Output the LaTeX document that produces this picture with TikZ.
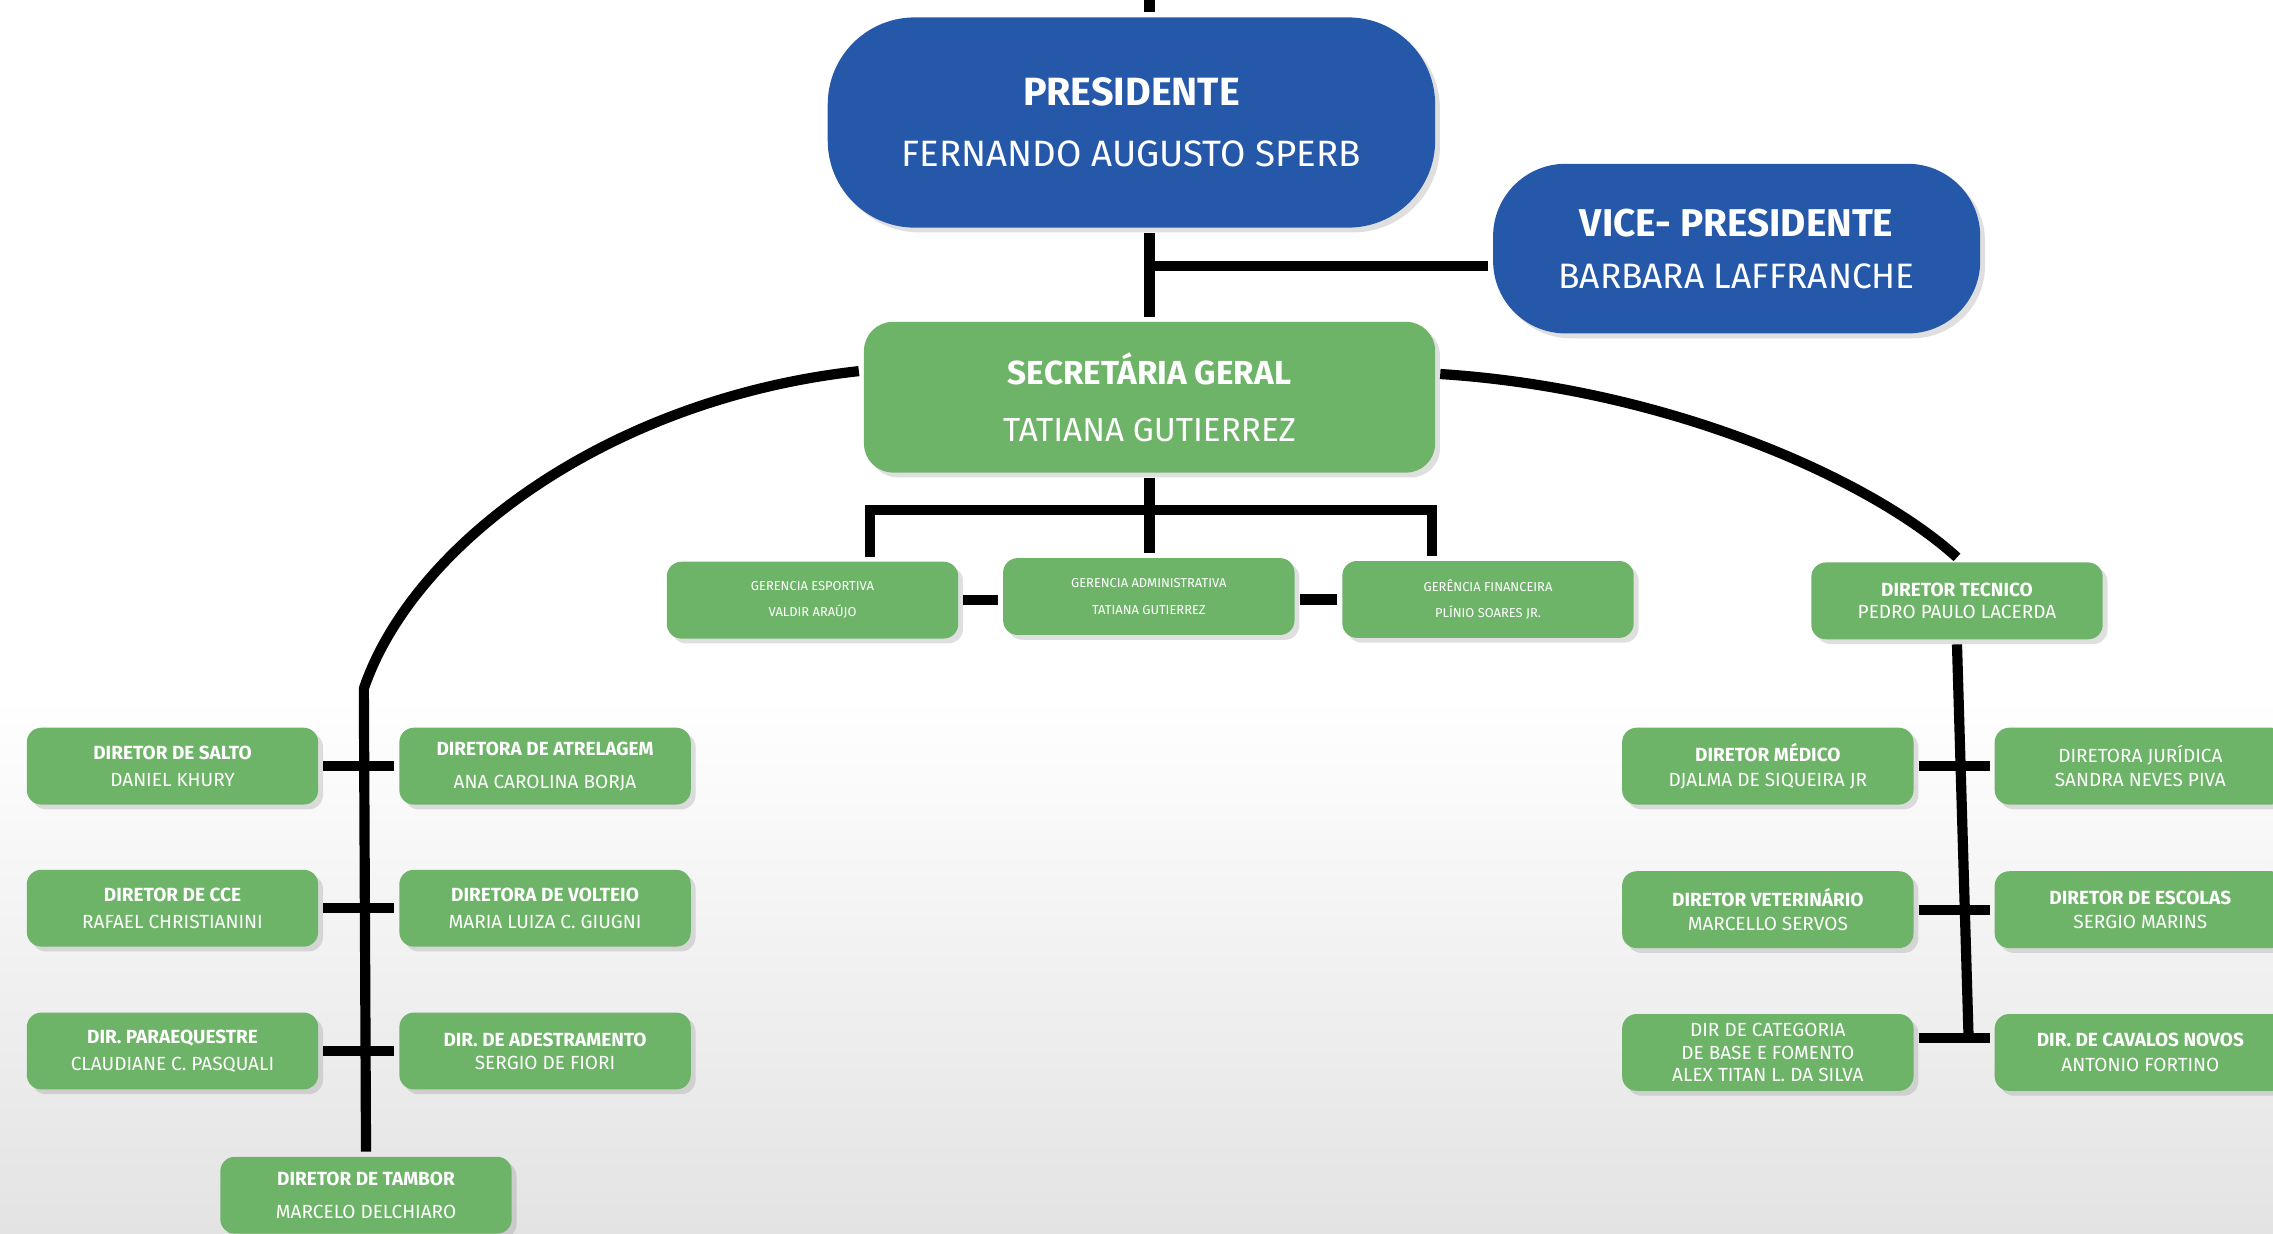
\documentclass[tikz,border=0pt]{standalone}
\usepackage{fontspec}
\setmainfont{Fira Sans}
\usetikzlibrary{shapes,arrows,backgrounds,positioning,shadows,calc}
\definecolor{orgblue}{RGB}{37,88,168}
\definecolor{orggreen}{RGB}{110,180,104}
\tikzset{
  orgnode/.style = {align=center, inner sep=0pt, text centered, text=white,
    rectangle, drop shadow={opacity=0.25, shadow xshift=0.05cm,
    shadow yshift=-0.05cm}},
  org_p/.style = {orgnode, fill=orgblue, rounded corners=0.9cm,
    minimum width=6.285cm, minimum height=2.175cm,
    font=\fontsize{10.8}{13}\selectfont},% presidente
  org_v/.style = {orgnode, fill=orgblue, rounded corners=0.75cm,
    minimum width=5.04cm, minimum height=1.755cm,
    font=\fontsize{10.4}{13}\selectfont},% vice
  org_s/.style = {orgnode, fill=orggreen, rounded corners=0.3cm,
    minimum width=5.91cm, minimum height=1.56cm,
    font=\fontsize{9.8}{12}\selectfont},% secretaria
  org_d/.style = {orgnode, fill=orggreen, rounded corners=0.15cm,
    minimum width=3.015cm, minimum height=0.795cm,
    font=\fontsize{5.6}{6.7}\selectfont},% diretorias
  org_g/.style = {org_d, font=\fontsize{3.8}{4.6}\selectfont}% gerencias
}
\begin{document}
\begin{tikzpicture}[x=0.015cm,y=-0.015cm,line width=3pt]
  \fill[white] (0,0) rectangle (1568,851);
  \fill[top color=white, bottom color=black!11] (0,480) rectangle (1568,851);
  \useasboundingbox (0,0) rectangle (1568,851);
  % presidencia
  \node [org_p] (pres) at (780.5,84.5)
    {{\fontsize{11.6}{13}\selectfont\bfseries PRESIDENTE}\\[5pt]FERNANDO AUGUSTO SPERB};
  \node [org_v] (vice) at (1198,171.5)
    {{\fontsize{11.4}{13}\selectfont\bfseries VICE- PRESIDENTE}\\[2.3pt]BARBARA LAFFRANCHE};
  \node [org_s] (sec) at (793,274)
    {{\bfseries SECRETÁRIA GERAL}\\[4.6pt]TATIANA GUTIERREZ};
  % gerencias
  \node [org_g] (gesp) at (560.5,414) {GERENCIA ESPORTIVA\\[3.1pt]VALDIR ARAÚJO};
  \node [org_g] (gadm) at (792.5,411.5) {GERENCIA ADMINISTRATIVA\\[3.1pt]TATIANA GUTIERREZ};
  \node [org_g] (gfin) at (1026.5,413.5) {GERÊNCIA FINANCEIRA\\[3.1pt]PLÍNIO SOARES JR.};
  % diretorias esportivas
  \node [org_d] (salto) at (119,528.5) {\textbf{DIRETOR DE SALTO}\\[1.4pt]DANIEL KHURY};
  \node [org_d] (atrel) at (376,528.5) {\textbf{DIRETORA DE ATRELAGEM}\\[3pt]ANA CAROLINA BORJA};
  \node [org_d] (cce) at (119,626.5) {\textbf{DIRETOR DE CCE}\\[1.4pt]RAFAEL CHRISTIANINI};
  \node [org_d] (volt) at (376,626.5) {\textbf{DIRETORA DE VOLTEIO}\\[1.4pt]MARIA LUIZA C. GIUGNI};
  \node [org_d] (para) at (119,725) {\textbf{DIR. PARAEQUESTRE}\\[1.4pt]CLAUDIANE C. PASQUALI};
  \node [org_d] (ades) at (376,725) {\textbf{DIR. DE ADESTRAMENTO}\\[0pt]SERGIO DE FIORI};
  \node [org_d] (tambor) at (252.5,824.5) {\textbf{DIRETOR DE TAMBOR}\\[3pt]MARCELO DELCHIARO};
  % diretoria tecnica
  \node [org_d] (dtec) at (1350,414.5) {\textbf{DIRETOR TECNICO}\\[0pt]PEDRO PAULO LACERDA};
  \node [org_d] (medico) at (1219.5,528.5) {\textbf{DIRETOR MÉDICO}\\[0.5pt]DJALMA DE SIQUEIRA JR};
  \node [org_d] (jurid) at (1476.5,528.5) {DIRETORA JURÍDICA\\[0.5pt]SANDRA NEVES PIVA};
  \node [org_d] (vet) at (1219.5,627.5) {\textbf{DIRETOR VETERINÁRIO}\\[0.5pt]MARCELLO SERVOS};
  \node [org_d] (escolas) at (1476.5,627.5) {\textbf{DIRETOR DE ESCOLAS}\\[0.5pt]SERGIO MARINS};
  \node [org_d] (categ) at (1219.5,726) {DIR DE CATEGORIA\\DE BASE E FOMENTO\\ALEX TITAN L. DA SILVA};
  \node [org_d] (cav) at (1476.5,726) {\textbf{DIR. DE CAVALOS NOVOS}\\[0.5pt]ANTONIO FORTINO};
  % ligacoes
  \coordinate (ptop) at (sec.north |- 0,0);
  \draw (ptop) -- (ptop |- pres.north);
  \draw (sec.north) -- (sec.north |- pres.south);
  \draw ([yshift=-0.18cm]vice.west) -- ([yshift=-0.18cm]vice.west -| sec.north);
  \coordinate (gbl) at (600,352);
  \coordinate (gbr) at (988,352);
  \draw (gbl |- gesp.north) -- (gbl) -- (gbr) -- (gbr |- gfin.north);
  \draw (sec.south) -- (sec.south |- gadm.north);
  \draw (gesp.east) -- (gesp.east -| gadm.west);
  \draw (gadm.east |- gfin.west) -- (gfin.west);
  \coordinate (lknee) at (251,475);
  \draw ([yshift=0.27cm]sec.west) .. controls (420,275) and (285,375) .. (lknee) -- (tambor.north);
  \draw ([yshift=0.24cm]sec.east) .. controls (1150,268) and (1290,330) .. (dtec.north);
  \coordinate (rbot) at ($(dtec.south |- categ.east)+(8,-10)$);
  \draw (dtec.south) -- (rbot);
  \draw (salto.east) -- (atrel.west);
  \draw (cce.east) -- (volt.west);
  \draw (para.east) -- (ades.west);
  \draw (medico.east) -- (jurid.west);
  \draw (vet.east) -- (escolas.west);
  \draw ([yshift=0.15cm]categ.east) -- ([yshift=0.15cm]cav.west);
\end{tikzpicture}
\end{document}
